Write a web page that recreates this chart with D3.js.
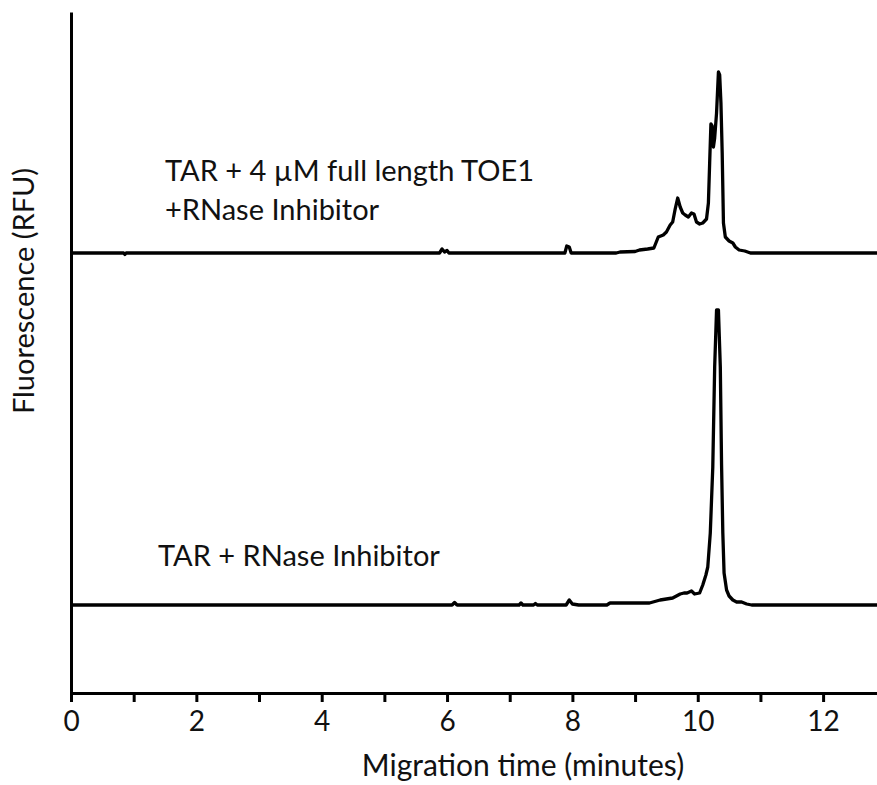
<!DOCTYPE html>
<html>
<head>
<meta charset="utf-8">
<script src="https://cdn.jsdelivr.net/npm/d3@7"></script>
<style>
  body { margin: 0; background: #fff; }
  text { font-family: Lato, "Open Sans", sans-serif; fill: #111; }
</style>
</head>
<body>
<div id="chart"></div>
<script>
// migration time (min) and signal above baseline (RFU, arbitrary)
const topTime = [0, 0.84, 0.86, 0.88, 5.88, 5.92, 5.96, 6.0, 6.03, 7.88, 7.91, 7.95, 7.98,
  8.7, 8.76, 9.0, 9.07, 9.2, 9.3, 9.37, 9.45, 9.5, 9.56, 9.6, 9.64, 9.68, 9.72, 9.76,
  9.8, 9.85, 9.9, 9.94, 9.98, 10.03, 10.08, 10.14, 10.17, 10.19, 10.21, 10.23, 10.25,
  10.27, 10.3, 10.33, 10.35, 10.37, 10.39, 10.41, 10.44, 10.5, 10.56, 10.6, 10.66,
  10.75, 10.84, 12.86];
const topSignal = [0, 0, -1.5, 0, 0, 4, 1, 2.5, 0, 0, 7, 6, 0,
  0, 1, 1.5, 3, 4, 5, 16, 18, 21, 28, 31, 44, 55, 46, 40,
  38, 36, 40, 39, 31, 29, 30, 34, 50, 90, 129, 127, 106,
  115, 140, 181, 178, 150, 100, 30, 16, 12, 10, 6, 3,
  2, 0, 0];

const bottomTime = [0, 6.08, 6.12, 6.16, 7.15, 7.18, 7.21, 7.38, 7.41, 7.44, 7.9, 7.95,
  8.0, 8.1, 8.55, 8.6, 9.0, 9.23, 9.4, 9.5, 9.6, 9.72, 9.78, 9.83, 9.9, 9.95, 10.03,
  10.08, 10.13, 10.16, 10.2, 10.24, 10.27, 10.3, 10.33, 10.36, 10.38, 10.4, 10.42,
  10.46, 10.5, 10.56, 10.62, 10.7, 10.78, 10.86, 12.86];
const bottomSignal = [0, 0, 2.5, 0, 0, 2, 0, 0, 1.5, 0, 0, 5,
  1, 0, 0, 2, 2, 2, 5, 6, 7, 11, 12, 12, 14, 11, 12,
  20, 30, 38, 72, 138, 238, 295, 295, 238, 140, 72, 32,
  15, 9, 5, 3, 3, 1, 0, 0];

// vertical offsets of the stacked traces
const traceOffsets = [440, 88];
const traceLabels = [
  ["TAR + 4 \u00b5M full length TOE1", "+RNase Inhibitor"],
  ["TAR + RNase Inhibitor"]
];
const xTicks = [0, 1, 2, 3, 4, 5, 6, 7, 8, 9, 10, 11, 12];

const w = 877;
const h = 785;

const x = d3.scaleLinear().domain([0, 12.86]).range([71, 877]);
const y = d3.scaleLinear().domain([0, 681]).range([693, 12]);

const svg = d3
  .select("#chart")
  .append("svg")
  .attr("width", w)
  .attr("height", h);

// traces
const traces = [
  topTime.map((t, i) => [t, topSignal[i] + traceOffsets[0]]),
  bottomTime.map((t, i) => [t, bottomSignal[i] + traceOffsets[1]])
];

const line = d3
  .line()
  .x((d) => x(d[0]))
  .y((d) => y(d[1]));

svg
  .append("g")
  .selectAll("path")
  .data(traces)
  .enter()
  .append("path")
  .attr("d", line)
  .attr("fill", "none")
  .attr("stroke", "#000")
  .attr("stroke-width", 3.3)
  .attr("stroke-linejoin", "round");

// x axis
const xAxis = svg
  .append("g")
  .attr("transform", `translate(0,${y(0)})`)
  .call(
    d3
      .axisBottom(x)
      .tickValues(xTicks)
      .tickSize(9)
      .tickSizeOuter(0)
      .tickPadding(9)
      .tickFormat((d) => (d % 2 === 0 ? d : ""))
  );
xAxis.select(".domain").attr("stroke", "#000").attr("stroke-width", 3);
xAxis.selectAll(".tick line").attr("stroke", "#000").attr("stroke-width", 3);
xAxis
  .selectAll(".tick text")
  .style("font-family", "Lato, sans-serif")
  .attr("font-size", 28)
  .attr("fill", "#111");

// y axis (no ticks)
const yAxis = svg
  .append("g")
  .attr("transform", `translate(${x(0)},0)`)
  .call(d3.axisLeft(y).tickValues([]).tickSizeOuter(0));
yAxis.select(".domain").attr("stroke", "#000").attr("stroke-width", 3);

// trace labels
svg
  .append("text")
  .attr("x", 165)
  .attr("y", 181)
  .attr("font-size", 29)
  .text(traceLabels[0][0]);
svg
  .append("text")
  .attr("x", 165)
  .attr("y", 220)
  .attr("font-size", 29)
  .text(traceLabels[0][1]);
svg
  .append("text")
  .attr("x", 158)
  .attr("y", 566)
  .attr("font-size", 29)
  .text(traceLabels[1][0]);

// axis titles
svg
  .append("text")
  .attr("x", 523)
  .attr("y", 776)
  .attr("text-anchor", "middle")
  .attr("font-size", 30)
  .text("Migration time (minutes)");
svg
  .append("text")
  .attr("transform", "translate(34,291) rotate(-90)")
  .attr("text-anchor", "middle")
  .attr("font-size", 29)
  .text("Fluorescence (RFU)");
</script>
</body>
</html>
